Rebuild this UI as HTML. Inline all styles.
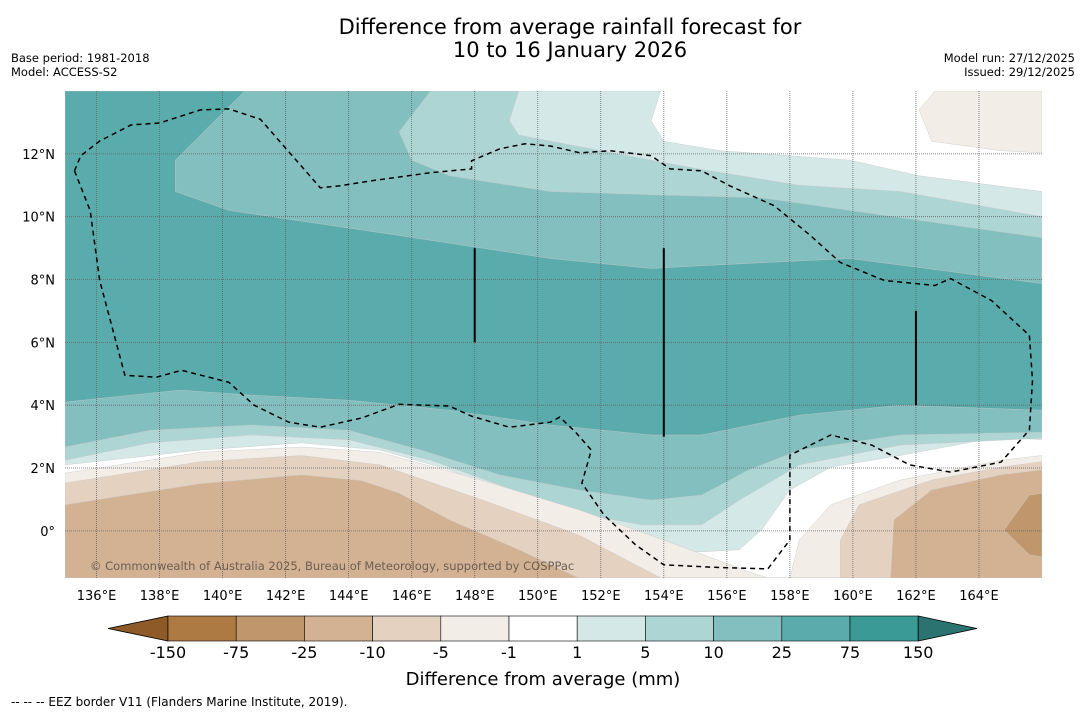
<!DOCTYPE html>
<html><head><meta charset="utf-8"><style>
body{margin:0;background:#fff;width:1085px;height:713px;overflow:hidden;font-family:"DejaVu Sans","Liberation Sans",sans-serif}
svg text{font-family:"DejaVu Sans","Liberation Sans",sans-serif}
</style></head><body>
<svg width="1085" height="713">
<text x="570" y="34" font-size="21" text-anchor="middle">Difference from average rainfall forecast for</text>
<text x="570" y="57" font-size="21" text-anchor="middle">10 to 16 January 2026</text>
<text x="11" y="62" font-size="11.5">Base period: 1981-2018</text>
<text x="11" y="76" font-size="11.5">Model: ACCESS-S2</text>
<text x="1075" y="62" font-size="11.5" text-anchor="end">Model run: 27/12/2025</text>
<text x="1075" y="76" font-size="11.5" text-anchor="end">Issued: 29/12/2025</text>
<defs><clipPath id="mc"><rect x="65" y="91" width="977" height="487"/></clipPath></defs>
<g id="map" clip-path="url(#mc)"></g>
<g id="axes"></g>
<g id="cbar"></g>
<text x="543" y="685" font-size="18" text-anchor="middle">Difference from average (mm)</text>
<text x="11" y="706" font-size="12">--  --  -- EEZ border V11 (Flanders Marine Institute, 2019).</text>
</svg>
<script>
const NS="http://www.w3.org/2000/svg";
const lonMin=135,lonMax=166,latMin=-1.5,latMax=14;
const X0=65,X1=1042,Y0=91,Y1=578;
const xs=lon=>X0+(lon-lonMin)/(lonMax-lonMin)*(X1-X0);
const ys=lat=>Y1-(lat-latMin)/(latMax-latMin)*(Y1-Y0);
const lonTicks=[136,138,140,142,144,146,148,150,152,154,156,158,160,162,164];
const latTicks=[0,2,4,6,8,10,12];
const latLabels=["0°","2°N","4°N","6°N","8°N","10°N","12°N"];
const cbLevels=["-150","-75","-25","-10","-5","-1","1","5","10","25","75","150"];
const cbColors=["#ae7a44","#c0966c","#d3b193","#e4d1c0","#f2ede6","#ffffff","#d4e8e7","#acd5d4","#84bfbf","#5aabab","#3a9a96"];
// contour regions [lon,lat]
const regGt1=[[135,14],[153.9,14],[153.6,13.05],[154,12.4],[155.8,12.1],[159.9,11.8],[162.1,11.3],[166,10.8],[166,2.9],[164.7,3.0],[161.5,2.4],[159.3,2.03],[158,1.3],[157.1,0.03],[156.4,-0.6],[155.2,-0.67],[153.6,-0.6],[152,-0.13],[150.4,0.35],[148.8,1.3],[147.2,1.94],[145,2.57],[142.5,2.8],[139.3,2.57],[135,2.1]];
const regGt5=[[135,14],[149.4,14],[149.1,13.05],[149.4,12.6],[152,12.1],[155.2,11.5],[158.3,11.0],[161.5,10.8],[166,10.0],[166,2.95],[161.5,2.73],[158.3,2.1],[156.4,0.98],[155.2,0.19],[153.3,0.19],[150.7,0.67],[148.8,1.46],[146.6,2.25],[144,2.9],[140.9,3.05],[137.7,2.8],[135,2.25]];
const regGt10=[[135,14],[146.6,14],[145.6,12.7],[146,11.8],[147.2,11.3],[150.4,10.8],[153.6,10.7],[157.1,10.6],[159.9,10.2],[166,9.33],[166,3.14],[161.5,3.05],[158.3,2.57],[156.7,1.94],[155.2,1.14],[153.6,0.98],[151.3,1.3],[148.8,1.78],[146.3,2.57],[144,3.2],[140.9,3.37],[137.7,3.2],[135,2.67]];
const regGt25=[[135,14],[140.7,14],[138.5,11.8],[138.5,10.8],[140.2,10.2],[145.6,9.4],[150.4,8.67],[153.6,8.35],[155.2,8.44],[159.9,8.67],[166,7.87],[166,3.84],[161.5,4.0],[158.3,3.68],[155.2,3.05],[153.6,3.05],[150.4,3.37],[147.2,3.84],[144,4.16],[140.9,4.32],[138.65,4.48],[135,4.1]];
const regLtM1S=[[135,1.84],[139.3,2.5],[142.5,2.67],[145,2.5],[148.2,1.62],[151.3,0.67],[154,-0.29],[156.7,-1.3],[157.3,-1.5],[158,-1.5],[158.3,-0.29],[159.3,0.83],[161.5,1.62],[164.7,2.25],[166,2.4],[166,-1.5],[135,-1.5]];
const regLtM1N=[[162.6,14],[162.1,13.4],[162.5,12.4],[164.7,12.1],[166,12.03],[166,14]];
const regLtM5=[[135,1.52],[139.3,2.2],[142.5,2.4],[145,2.1],[148.2,1.0],[151.3,-0.13],[153.9,-1.5],[159.6,-1.5],[159.6,-0.29],[160.2,0.83],[162.5,1.62],[164.7,2.03],[166,2.2],[166,-1.5],[135,-1.5]];
const regLtM10=[[135,0.83],[139.3,1.5],[142.5,1.78],[144.4,1.6],[145.6,1.2],[147.2,0.35],[149.4,-0.6],[151.3,-1.5],[161.2,-1.5],[161.3,0.35],[162.5,1.3],[164.7,1.78],[166,1.94],[166,-1.5],[135,-1.5]];
const regLtM25=[[166,1.2],[165.6,1.14],[164.8,0.03],[165.6,-0.76],[166,-0.83]];
const eez=[[135.3,11.46],[135.8,10.19],[136.1,7.97],[136.9,4.95],[137.9,4.89],[138.7,5.11],[140.2,4.73],[141,4.0],[142.1,3.46],[143.1,3.3],[144.4,3.59],[145.6,4.03],[147.2,3.97],[147.9,3.65],[149.1,3.3],[150.4,3.46],[150.7,3.62],[151.2,3.14],[151.7,2.57],[151.4,1.52],[152.1,0.51],[153.1,-0.44],[154,-1.08],[155.8,-1.17],[157.3,-1.21],[158,-0.29],[158,2.41],[159.3,3.05],[160.6,2.73],[161.8,2.1],[163.1,1.87],[164.7,2.19],[165.6,3.21],[165.7,4.79],[165.6,6.22],[164.4,7.33],[163.1,8.03],[162.6,7.81],[161,7.97],[159.6,8.54],[158.65,9.4],[158,9.94],[157.5,10.35],[156.1,10.98],[155.2,11.46],[154.2,11.52],[153.6,11.94],[152.3,12.1],[151.35,12.03],[150.4,12.25],[149.6,12.32],[148.8,12.16],[147.9,11.78],[147.9,11.52],[146.6,11.4],[144.7,11.14],[143.7,10.98],[143.1,10.92],[141.2,13.1],[140.2,13.43],[139.3,13.4],[138,12.98],[137.1,12.92],[136.1,12.41],[135.5,11.94],[135.3,11.46]];
const boundaryLines=[[148,6,9],[154,3,9],[162,4,7]];

const map=document.getElementById('map');
function mk(tag,attrs,parent){const e=document.createElementNS(NS,tag);for(const k in attrs)e.setAttribute(k,attrs[k]);parent.appendChild(e);return e;}
const pts=a=>a.map(p=>xs(p[0]).toFixed(1)+","+ys(p[1]).toFixed(1)).join(" ");
let bg=mk('rect',{x:X0,y:Y0,width:X1-X0,height:Y1-Y0,fill:"#ffffff"},map);


const layers=[[regGt1,"#d4e8e7","region-1-5mm"],[regGt5,"#acd5d4","region-5-10mm"],[regGt10,"#84bfbf","region-10-25mm"],[regGt25,"#5aabab","region-25-75mm"],[regLtM1S,"#f2ede6","region-minus1-5mm"],[regLtM1N,"#f2ede6","region-minus1-5mm-north"],[regLtM5,"#e4d1c0","region-minus5-10mm"],[regLtM10,"#d3b193","region-minus10-25mm"],[regLtM25,"#c0966c","region-minus25-75mm"]];
layers.forEach(l=>{const p=mk('polygon',{points:pts(l[0]),fill:l[1],stroke:"#c8c8c8","stroke-width":0.4},map);

});
lonTicks.forEach(v=>{const g=mk('line',{x1:xs(v),x2:xs(v),y1:Y0,y2:Y1,stroke:"#666","stroke-width":0.8,"stroke-dasharray":"1,1"},map);

});
latTicks.forEach(v=>{const g=mk('line',{x1:X0,x2:X1,y1:ys(v),y2:ys(v),stroke:"#666","stroke-width":0.8,"stroke-dasharray":"1,1"},map);

});
const ez=mk('polyline',{points:pts(eez),fill:"none",stroke:"#000","stroke-width":1.5,"stroke-dasharray":"5,4"},map);


boundaryLines.forEach(b=>{const l=mk('line',{x1:xs(b[0]),x2:xs(b[0]),y1:ys(b[2]),y2:ys(b[1]),stroke:"#000","stroke-width":2},map);

});
const cp=mk('text',{x:90,y:570,"font-size":11.5,fill:"#6b5f52"},map);cp.textContent="© Commonwealth of Australia 2025, Bureau of Meteorology, supported by COSPPac";


const axes=document.getElementById('axes');
lonTicks.forEach(v=>{const t=mk('text',{x:xs(v),y:600,"font-size":13,"text-anchor":"middle"},axes);t.textContent=v+"°E";

});
latTicks.forEach((v,i)=>{const t=mk('text',{x:55,y:ys(v)+5,"font-size":13,"text-anchor":"end"},axes);t.textContent=latLabels[i];

});
const cb=document.getElementById('cbar');
const cbX0=168,cbW=68.2,cbY=616,cbH=25;
const lt=mk('polygon',{points:`108,${cbY+cbH/2} ${cbX0},${cbY} ${cbX0},${cbY+cbH}`,fill:"#8d5a28",stroke:"#000","stroke-width":0.8},cb);


cbColors.forEach((c,i)=>{const r=mk('rect',{x:cbX0+i*cbW,y:cbY,width:cbW,height:cbH,fill:c,stroke:"#000","stroke-width":0.6},cb);

});
const xe=cbX0+cbColors.length*cbW;
const rt=mk('polygon',{points:`${xe},${cbY} 977,${cbY+cbH/2} ${xe},${cbY+cbH}`,fill:"#2a7370",stroke:"#000","stroke-width":0.8},cb);


cbLevels.forEach((s,i)=>{const t=mk('text',{x:cbX0+i*cbW,y:658,"font-size":16,"text-anchor":"middle"},cb);t.textContent=s;

});
</script>
</body></html>
